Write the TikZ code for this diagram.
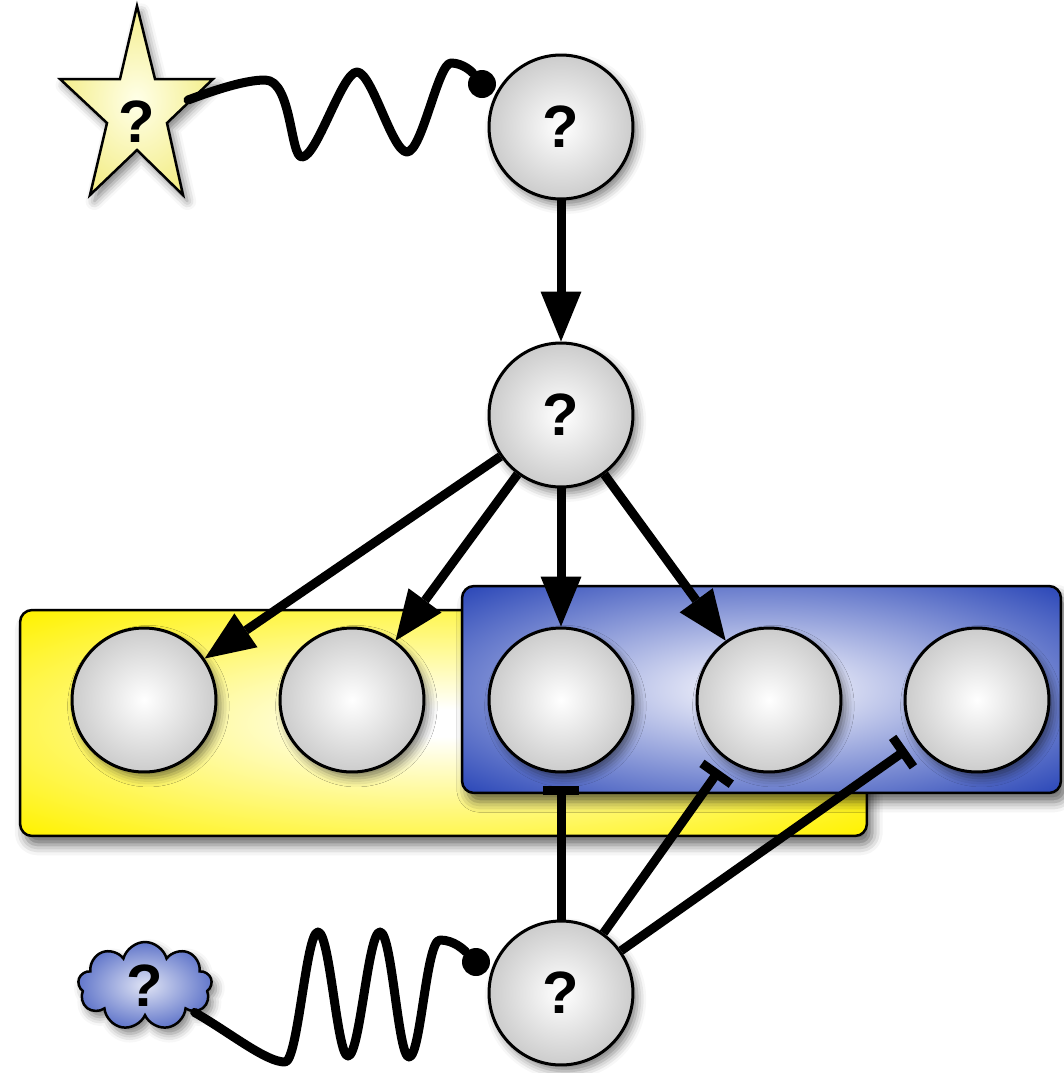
\documentclass[tikz,border=0pt]{standalone}
\usepackage{fontspec}
\setmainfont{Liberation Sans}
\usepackage{tikz}
\usetikzlibrary{arrows.meta,shapes.symbols,shadows.blur}
\definecolor{boxyellow}{RGB}{255,242,0}
\definecolor{boxblue}  {RGB}{44,72,184}
\definecolor{starcore} {RGB}{255,255,232}
\definecolor{staredge} {RGB}{244,238,140}
\definecolor{bluecore} {RGB}{232,234,248}
% glow that reaches the outer colour at the box edges
\pgfdeclareradialshading{yelglow}{\pgfpoint{0bp}{0bp}}%
  {color(0bp)=(white); color(3bp)=(white); color(35bp)=(boxyellow); color(50bp)=(boxyellow)}
\pgfdeclareradialshading{bluglow}{\pgfpoint{0bp}{0bp}}%
  {color(0bp)=(bluecore); color(4bp)=(bluecore); color(35bp)=(boxblue); color(50bp)=(boxblue)}
\tikzset{
  softshadow/.style={blur shadow={shadow xshift=2.5pt, shadow yshift=-3.5pt,
                     shadow blur radius=5pt, shadow opacity=50}},
  boxshadow/.style ={blur shadow={shadow xshift=3pt, shadow yshift=-5pt,
                     shadow blur radius=6pt, shadow opacity=60}},
  qmark/.style   ={font=\fontsize{34}{34}\selectfont\bfseries},
  molnode/.style ={circle, draw, line width=0.06cm, minimum size=2.88cm,
                   inner sep=0pt, shade, inner color=white,
                   outer color=gray!40, softshadow, qmark},
  compbox/.style ={draw, line width=0.05cm, rounded corners=0.24cm,
                   inner sep=0pt, boxshadow},
  yelbox/.style  ={compbox, shade, shading=yelglow},
  blubox/.style  ={compbox, shade, shading=bluglow},
  dock/.style    ={circle, fill=black, minimum size=0.56cm, inner sep=0pt},
  arr/.style     ={-{Triangle[length=1cm,width=0.82cm,line width=0pt]},
                   color=black, line width=0.18cm},
  inh/.style     ={-{Bar[width=0.72cm]}, color=black, line width=0.18cm,
                   shorten >=0.25cm},
  wig/.style     ={color=black, line width=0.18cm, line cap=round,
                   line join=round},
}

\begin{document}
\begin{tikzpicture}[x=0.02cm, y=-0.02cm]
  \useasboundingbox (0,0) rectangle (1064,1073);

  % the two groups behind the targets
  \node[yelbox, minimum width=16.94cm, minimum height=4.52cm] (grpY) at (443.5,723) {};
  \node[blubox, minimum width=11.98cm, minimum height=4.14cm] (grpB) at (761.5,689.5) {};

  % ligand star and cue cloud
  \path[draw, line width=0.05cm, shade, inner color=starcore,
        outer color=staredge, softshadow]
    (137,6) -- (155,79) -- (213,79) -- (167,123) -- (183,195) -- (137,150)
    -- (90,195) -- (107,123) -- (60,79) -- (120,79) -- cycle;
  \node[qmark] (lig) at (137,122) {?};
  \coordinate (ligR) at (188,100);
  \node[cloud, cloud puffs=9, draw, line width=0.05cm, shade,
        inner color=white!85!boxblue, outer color=boxblue!75!white,
        minimum width=2.68cm, minimum height=1.76cm, inner sep=0pt,
        softshadow, qmark] (cue) at (145,986) {?};

  % molecules
  \node[molnode] (sig) at (561,127) {?};
  \node[molnode] (rec) at (561,415) {?};
  \foreach \i/\x in {1/144,2/352,3/561,4/769,5/977}
    \node[molnode] (t\i) at (\x,700) {};
  \node[molnode] (inhb) at (561,993) {?};

  \node[dock] (dockA) at (482,84) {};
  \node[dock] (dockB) at (476,962) {};

  % wavy links
  \draw[wig] (ligR) .. controls (215,90) and (245,80) .. (265,80)
    .. controls (292,80) and (290,157) .. (302,157)
    .. controls (317,157) and (342,72) .. (357,72)
    .. controls (372,72) and (392,152) .. (407,152)
    .. controls (422,152) and (438,63) .. (451,63)
    .. controls (463,63) and (472,72) .. (dockA);
  \draw[wig] (cue.-28) .. controls (232,1034) and (266,1062) .. (285,1062)
    .. controls (298,1062) and (306,932) .. (318,932)
    .. controls (330,932) and (337,1056) .. (348,1056)
    .. controls (360,1056) and (368,932) .. (380,932)
    .. controls (392,932) and (398,1057) .. (409,1057)
    .. controls (421,1057) and (426,940) .. (440,940)
    .. controls (454,940) and (464,950) .. (dockB);

  % activation and inhibition
  \draw[arr] (sig) -- (rec);
  \foreach \t in {1,...,4}
    \draw[arr] (rec) -- (t\t);
  \foreach \t in {3,4,5}
    \draw[inh] (inhb) -- (t\t);
\end{tikzpicture}
\end{document}
